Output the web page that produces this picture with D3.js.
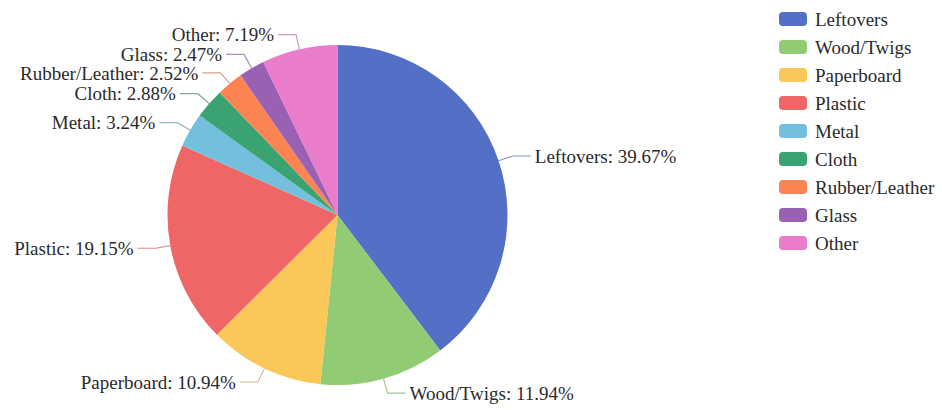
<!DOCTYPE html>
<html lang="en">
<head>
<meta charset="UTF-8">
<title>Waste Composition</title>
<script src="https://d3js.org/d3.v7.min.js"></script>
<style>
    body { margin: 0; background: #fff; }
    svg { display: block; font-family: "Liberation Serif", "Times New Roman", serif; }
    .slice-label { font-size: 19px; fill: #2a2a2a; }
    .legend-text { font-size: 19px; fill: #2a2a2a; }
</style>
</head>
<body>
<div id="chart"></div>
<script>
    const categories = ["Leftovers", "Wood/Twigs", "Paperboard", "Plastic", "Metal", "Cloth", "Rubber/Leather", "Glass", "Other"];
    const shares = [39.67, 11.94, 10.94, 19.15, 3.24, 2.88, 2.52, 2.47, 7.19];
    const palette = ["#5470c6", "#91cc75", "#fac858", "#ee6666", "#73c0de", "#3ba272", "#fc8452", "#9a60b4", "#ea7ccc"];

    const width = 942, height = 410;
    const cx = 337.5, cy = 215, radius = 170;
    const lineLen = 15, lineLen2 = 18, minGap = 18.5;

    const svg = d3.select("#chart").append("svg")
        .attr("width", width)
        .attr("height", height);

    const color = d3.scaleOrdinal().domain(categories).range(palette);

    const data = categories.map((name, i) => ({ name, value: shares[i] }));

    const pie = d3.pie().sort(null).value(d => d.value);
    const arc = d3.arc().innerRadius(0).outerRadius(radius);
    const arcs = pie(data);

    const g = svg.append("g").attr("transform", `translate(${cx},${cy})`);

    g.selectAll("path.slice")
        .data(arcs)
        .join("path")
        .attr("class", "slice")
        .attr("d", arc)
        .attr("fill", d => color(d.data.name));

    // label positions, pushed apart where they collide (per side)
    const labels = arcs.map(a => {
        const mid = (a.startAngle + a.endAngle) / 2;
        const dx = Math.sin(mid), dy = -Math.cos(mid);
        return {
            a,
            right: dx >= 0,
            p0: [radius * dx, radius * dy],
            p1: [(radius + lineLen) * dx, (radius + lineLen) * dy],
            y: (radius + lineLen) * dy
        };
    });

    [true, false].forEach(side => {
        const items = labels.filter(l => l.right === side).sort((a, b) => a.y - b.y);
        for (let k = 0; k < 60; k++) {
            for (let i = 1; i < items.length; i++) {
                const gap = items[i].y - items[i - 1].y;
                if (gap < minGap) {
                    const push = (minGap - gap) / 2;
                    items[i - 1].y -= push;
                    items[i].y += push;
                }
            }
        }
    });

    labels.forEach(l => {
        const sign = l.right ? 1 : -1;
        l.p1 = [l.p1[0], l.y];
        l.p2 = [l.p1[0] + sign * lineLen2, l.y];
    });

    g.selectAll("polyline.label-line")
        .data(labels)
        .join("polyline")
        .attr("class", "label-line")
        .attr("points", d => [d.p0, d.p1, d.p2].map(p => p.join(",")).join(" "))
        .attr("fill", "none")
        .attr("stroke", d => d3.interpolateRgb(color(d.a.data.name), "#b5b5b5")(0.55))
        .attr("stroke-width", 1.2);

    g.selectAll("text.slice-label")
        .data(labels)
        .join("text")
        .attr("class", "slice-label")
        .attr("x", d => d.p2[0] + (d.right ? 4 : -4))
        .attr("y", d => d.y)
        .attr("dy", "0.35em")
        .attr("text-anchor", d => d.right ? "start" : "end")
        .text(d => `${d.a.data.name}: ${d3.format(".2f")(d.a.data.value)}%`);

    // legend
    const legendY = d3.scalePoint().domain(categories).range([19, 243]);
    const legend = svg.append("g").attr("class", "legend");

    const items = legend.selectAll("g")
        .data(categories)
        .join("g")
        .attr("transform", d => `translate(779,${legendY(d)})`);

    items.append("rect")
        .attr("x", 0)
        .attr("y", -7)
        .attr("width", 28)
        .attr("height", 14)
        .attr("rx", 4)
        .attr("fill", d => color(d));

    items.append("text")
        .attr("class", "legend-text")
        .attr("x", 36)
        .attr("dy", "0.35em")
        .text(d => d);
</script>
</body>
</html>
